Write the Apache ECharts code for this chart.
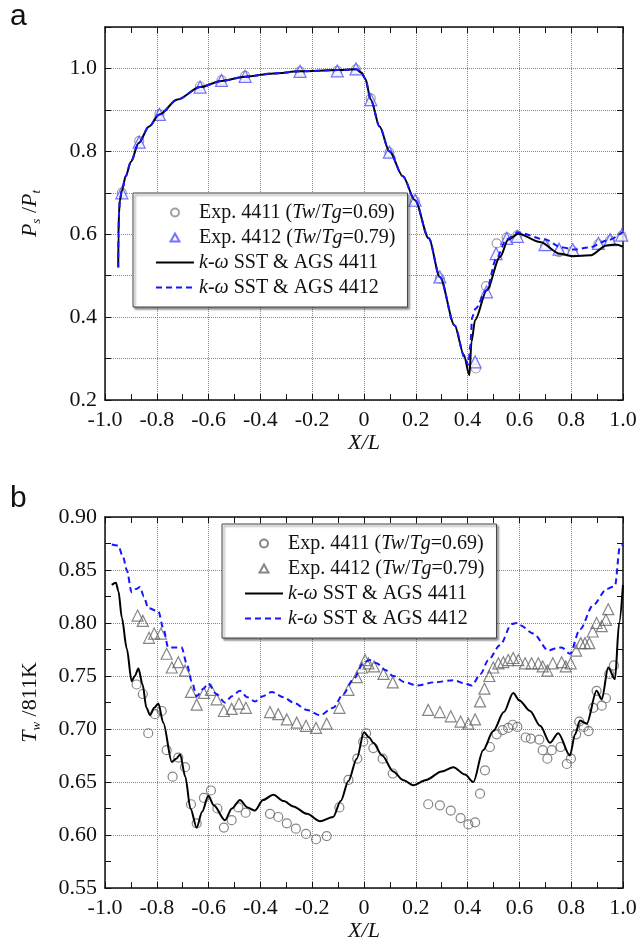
<!DOCTYPE html>
<html>
<head>
<meta charset="utf-8">
<script src="https://cdn.jsdelivr.net/npm/echarts@6/dist/echarts.min.js"></script>
<style>
  html, body { margin: 0; padding: 0; background: #fff; }
  #chart { width: 643px; height: 947px; }
</style>
</head>
<body>
<div id="chart"></div>
<script>
// panel a: Ps/Pt
var topExp4411 = [[-0.935,0.70],[-0.868,0.825],[-0.79,0.89],[-0.633,0.957],[-0.55,0.972],[-0.459,0.982],[-0.247,0.993],[-0.103,0.994],[-0.031,0.998],[0.026,0.928],[0.098,0.797],[0.197,0.68],[0.293,0.493],[0.432,0.276],[0.471,0.475],[0.512,0.578],[0.551,0.592],[0.592,0.597],[0.699,0.572],[0.753,0.557],[0.806,0.56],[0.905,0.576],[0.95,0.585],[0.995,0.596]];
var topExp4412 = [[-0.935,0.70],[-0.868,0.822],[-0.79,0.889],[-0.633,0.955],[-0.55,0.971],[-0.459,0.981],[-0.247,0.993],[-0.103,0.994],[-0.031,0.999],[0.026,0.925],[0.098,0.798],[0.197,0.682],[0.293,0.497],[0.429,0.292],[0.473,0.461],[0.51,0.553],[0.551,0.59],[0.592,0.595],[0.699,0.575],[0.753,0.564],[0.806,0.563],[0.905,0.578],[0.95,0.587],[0.995,0.598]];
var topSst4411 = [[-0.949,0.52],[-0.948,0.60],[-0.946,0.65],[-0.943,0.68],[-0.935,0.705],[-0.92,0.74],[-0.9,0.775],[-0.87,0.82],[-0.83,0.86],[-0.79,0.889],[-0.72,0.925],[-0.633,0.955],[-0.55,0.970],[-0.459,0.980],[-0.35,0.988],[-0.247,0.993],[-0.103,0.996],[-0.03,0.998],[-0.01,0.99],[0.005,0.975],[0.026,0.925],[0.06,0.86],[0.098,0.80],[0.15,0.74],[0.197,0.682],[0.25,0.59],[0.293,0.497],[0.35,0.38],[0.385,0.31],[0.407,0.26],[0.415,0.34],[0.429,0.393],[0.474,0.465],[0.525,0.545],[0.557,0.587],[0.596,0.601],[0.68,0.581],[0.757,0.553],[0.808,0.547],[0.873,0.549],[0.937,0.573],[0.97,0.575],[1.0,0.57]];
var topSst4412 = [[-0.949,0.52],[-0.948,0.60],[-0.946,0.65],[-0.943,0.68],[-0.935,0.705],[-0.92,0.74],[-0.9,0.775],[-0.87,0.82],[-0.83,0.86],[-0.79,0.889],[-0.72,0.925],[-0.633,0.955],[-0.55,0.970],[-0.459,0.980],[-0.35,0.988],[-0.247,0.993],[-0.103,0.996],[-0.03,0.998],[-0.01,0.99],[0.005,0.975],[0.026,0.925],[0.06,0.86],[0.098,0.80],[0.15,0.74],[0.197,0.682],[0.25,0.59],[0.293,0.497],[0.35,0.38],[0.39,0.30],[0.403,0.285],[0.41,0.33],[0.418,0.40],[0.43,0.42],[0.473,0.465],[0.51,0.54],[0.55,0.588],[0.596,0.604],[0.70,0.587],[0.76,0.569],[0.81,0.563],[0.87,0.568],[0.94,0.585],[1.0,0.606]];

// panel b: Tw/811K
var botExp4411 = [[-0.878,0.742],[-0.854,0.733],[-0.833,0.696],[-0.807,0.714],[-0.781,0.717],[-0.762,0.68],[-0.739,0.655],[-0.717,0.673],[-0.691,0.664],[-0.668,0.629],[-0.646,0.611],[-0.618,0.635],[-0.591,0.642],[-0.566,0.625],[-0.541,0.607],[-0.511,0.614],[-0.485,0.626],[-0.457,0.621],[-0.363,0.62],[-0.331,0.617],[-0.298,0.611],[-0.263,0.606],[-0.224,0.601],[-0.185,0.596],[-0.144,0.599],[-0.095,0.626],[-0.06,0.652],[-0.026,0.672],[-0.003,0.688],[0.008,0.696],[0.036,0.682],[0.072,0.672],[0.111,0.658],[0.248,0.629],[0.293,0.628],[0.335,0.623],[0.373,0.616],[0.403,0.61],[0.429,0.612],[0.448,0.639],[0.467,0.661],[0.486,0.683],[0.512,0.695],[0.535,0.699],[0.557,0.701],[0.574,0.704],[0.592,0.702],[0.624,0.692],[0.644,0.691],[0.677,0.69],[0.69,0.68],[0.708,0.672],[0.725,0.68],[0.759,0.683],[0.783,0.667],[0.799,0.672],[0.819,0.695],[0.831,0.707],[0.849,0.702],[0.867,0.698],[0.885,0.72],[0.898,0.736],[0.918,0.722],[0.934,0.729],[0.947,0.752],[0.965,0.76]];
var botExp4412 = [[-0.874,0.807],[-0.854,0.802],[-0.83,0.786],[-0.81,0.79],[-0.784,0.79],[-0.762,0.771],[-0.742,0.758],[-0.717,0.763],[-0.691,0.755],[-0.668,0.735],[-0.646,0.723],[-0.618,0.734],[-0.591,0.737],[-0.569,0.728],[-0.541,0.717],[-0.511,0.719],[-0.483,0.724],[-0.456,0.72],[-0.363,0.716],[-0.331,0.714],[-0.298,0.709],[-0.26,0.706],[-0.224,0.703],[-0.185,0.701],[-0.144,0.705],[-0.095,0.72],[-0.06,0.737],[-0.028,0.749],[-0.008,0.758],[0.004,0.765],[0.017,0.762],[0.039,0.759],[0.075,0.752],[0.111,0.744],[0.248,0.718],[0.293,0.716],[0.335,0.712],[0.373,0.707],[0.403,0.705],[0.429,0.709],[0.448,0.726],[0.465,0.738],[0.484,0.75],[0.499,0.758],[0.519,0.762],[0.538,0.763],[0.557,0.765],[0.576,0.767],[0.596,0.765],[0.622,0.762],[0.647,0.762],[0.673,0.762],[0.69,0.759],[0.708,0.755],[0.729,0.762],[0.763,0.763],[0.779,0.759],[0.798,0.762],[0.819,0.774],[0.837,0.781],[0.853,0.781],[0.87,0.781],[0.883,0.792],[0.898,0.8],[0.918,0.797],[0.934,0.803],[0.943,0.813]];
var botSst4411 = [[-0.974,0.836],[-0.958,0.838],[-0.948,0.83],[-0.935,0.805],[-0.916,0.776],[-0.897,0.745],[-0.885,0.750],[-0.871,0.757],[-0.855,0.742],[-0.84,0.72],[-0.826,0.713],[-0.81,0.720],[-0.794,0.724],[-0.775,0.706],[-0.742,0.669],[-0.725,0.672],[-0.71,0.676],[-0.69,0.655],[-0.67,0.625],[-0.646,0.607],[-0.625,0.622],[-0.601,0.637],[-0.58,0.628],[-0.537,0.614],[-0.51,0.625],[-0.479,0.633],[-0.45,0.626],[-0.421,0.623],[-0.39,0.633],[-0.35,0.638],[-0.31,0.632],[-0.273,0.627],[-0.22,0.62],[-0.17,0.613],[-0.119,0.617],[-0.09,0.632],[-0.06,0.651],[-0.028,0.672],[0.0,0.697],[0.02,0.692],[0.036,0.687],[0.07,0.675],[0.113,0.66],[0.15,0.652],[0.19,0.647],[0.24,0.652],[0.3,0.66],[0.345,0.664],[0.39,0.657],[0.422,0.65],[0.46,0.68],[0.499,0.698],[0.54,0.716],[0.576,0.734],[0.6,0.727],[0.641,0.717],[0.68,0.703],[0.718,0.687],[0.75,0.696],[0.795,0.675],[0.815,0.695],[0.834,0.708],[0.86,0.705],[0.898,0.736],[0.918,0.728],[0.943,0.758],[0.969,0.747],[0.985,0.80],[1.0,0.836]];
var botSst4412 = [[-0.974,0.874],[-0.949,0.873],[-0.93,0.862],[-0.916,0.85],[-0.897,0.829],[-0.88,0.832],[-0.865,0.834],[-0.85,0.825],[-0.833,0.814],[-0.794,0.811],[-0.775,0.795],[-0.756,0.777],[-0.73,0.777],[-0.704,0.777],[-0.685,0.762],[-0.665,0.745],[-0.646,0.731],[-0.62,0.738],[-0.601,0.743],[-0.57,0.733],[-0.537,0.725],[-0.51,0.731],[-0.479,0.736],[-0.45,0.73],[-0.421,0.726],[-0.39,0.731],[-0.356,0.735],[-0.31,0.73],[-0.273,0.725],[-0.22,0.718],[-0.17,0.713],[-0.119,0.72],[-0.08,0.733],[-0.041,0.747],[0.0,0.763],[0.023,0.765],[0.049,0.762],[0.08,0.756],[0.113,0.75],[0.16,0.744],[0.203,0.741],[0.27,0.744],[0.345,0.746],[0.39,0.743],[0.416,0.741],[0.45,0.752],[0.48,0.765],[0.525,0.779],[0.57,0.799],[0.59,0.8],[0.602,0.798],[0.654,0.79],[0.712,0.774],[0.74,0.776],[0.763,0.777],[0.795,0.771],[0.834,0.794],[0.885,0.817],[0.937,0.832],[0.969,0.835],[0.988,0.872],[1.0,0.874]];

var legendText = {
  a1: '{n|Exp. 4411 (}{i|Tw}{n|/}{i|Tg}{n|=0.69)}',
  a2: '{n|Exp. 4412 (}{i|Tw}{n|/}{i|Tg}{n|=0.79)}',
  a3: '{i|k}{n|-}{i|ω}{n| SST & AGS 4411}',
  a4: '{i|k}{n|-}{i|ω}{n| SST & AGS 4412}',
  b1: '{n|Exp. 4411 (}{i|Tw}{n|/}{i|Tg}{n|=0.69)}',
  b2: '{n|Exp. 4412 (}{i|Tw}{n|/}{i|Tg}{n|=0.79)}',
  b3: '{i|k}{n|-}{i|ω}{n| SST & AGS 4411}',
  b4: '{i|k}{n|-}{i|ω}{n| SST & AGS 4412}'
};

var SERIF = 'Liberation Serif';
var ink = '#111';
var triIcon = 'path://M5,0L10,9L0,9Z';

function xAx(gi, pos) {
  var main = pos === 'bottom';
  return {
    type: 'value', gridIndex: gi, position: pos,
    min: -1, max: 1, interval: 0.2,
    name: main ? 'X/L' : '', nameLocation: 'middle', nameGap: 31,
    nameTextStyle: { fontFamily: SERIF, fontStyle: 'italic', fontSize: 22, color: ink },
    axisLine: { show: true, onZero: false, lineStyle: { color: ink, width: 1.5 } },
    axisTick: { show: true, inside: true, length: 6, lineStyle: { color: ink, width: 1 } },
    minorTick: { show: true, splitNumber: 2, length: 6, lineStyle: { color: ink, width: 1 } },
    splitLine: { show: main, lineStyle: { type: 'dotted', color: '#888', width: 1 } },
    axisLabel: {
      show: main, margin: 9, fontFamily: SERIF, fontSize: 22, color: ink,
      formatter: function (v) { return Math.abs(v) < 1e-9 ? '0' : v.toFixed(1); }
    }
  };
}

function yName(gi) {
  return {
    fontFamily: SERIF, fontSize: 22, color: ink,
    rich: {
      i: { fontFamily: SERIF, fontStyle: 'italic', fontSize: 22, lineHeight: 26 },
      n: { fontFamily: SERIF, fontSize: 22, lineHeight: 26 },
      s: { fontFamily: SERIF, fontStyle: 'italic', fontSize: 13, verticalAlign: 'bottom', lineHeight: 13 }
    }
  };
}

function yAxTop(pos) {
  var main = pos === 'left';
  return {
    type: 'value', gridIndex: 0, position: pos,
    min: 0.2, max: 1.1, interval: 0.1,
    name: main ? '{i|P}{s|s}{n| /}{i|P}{s|t}' : '', nameLocation: 'middle', nameGap: 62, nameRotate: 90,
    nameTextStyle: yName(),
    axisLine: { show: true, onZero: false, lineStyle: { color: ink, width: 1.5 } },
    axisTick: { show: true, inside: true, length: 6, lineStyle: { color: ink, width: 1 } },
    splitLine: { show: main, lineStyle: { type: 'dotted', color: '#888', width: 1 } },
    axisLabel: {
      show: main, margin: 8, fontFamily: SERIF, fontSize: 22, color: ink,
      formatter: function (v) {
        var k = Math.round(v * 10);
        return (k % 2 === 0 && k <= 10) ? (k / 10).toFixed(1) : '';
      }
    }
  };
}

function yAxBot(pos) {
  var main = pos === 'left';
  return {
    type: 'value', gridIndex: 1, position: pos,
    min: 0.55, max: 0.9, interval: 0.05,
    name: main ? '{i|T}{s|w}{n| /811K}' : '', nameLocation: 'middle', nameGap: 62, nameRotate: 90,
    nameTextStyle: yName(),
    axisLine: { show: true, onZero: false, lineStyle: { color: ink, width: 1.5 } },
    axisTick: { show: true, inside: true, length: 6, lineStyle: { color: ink, width: 1 } },
    minorTick: { show: true, splitNumber: 2, length: 6, lineStyle: { color: ink, width: 1 } },
    splitLine: { show: main, lineStyle: { type: 'dotted', color: '#888', width: 1 } },
    axisLabel: {
      show: main, margin: 8, fontFamily: SERIF, fontSize: 22, color: ink,
      formatter: function (v) { return v.toFixed(2); }
    }
  };
}

function legendBox(left, top, names) {
  return {
    data: [
      { name: names[0] },
      { name: names[1], icon: triIcon },
      { name: names[2], itemStyle: { opacity: 0 } },
      { name: names[3], itemStyle: { opacity: 0 } }
    ],
    orient: 'vertical', left: left, top: top,
    itemWidth: 38, itemHeight: 8, itemGap: 0,
    symbolKeepAspect: true,
    padding: [7, 12, 7, 22],
    backgroundColor: '#fff', borderColor: '#444', borderWidth: 1,
    shadowColor: 'rgba(0,0,0,0.45)', shadowBlur: 2, shadowOffsetX: 2, shadowOffsetY: 2,
    selectedMode: false,
    formatter: function (name) { return legendText[name]; },
    textStyle: {
      fontFamily: SERIF, fontSize: 20, color: ink, lineHeight: 25,
      rich: {
        n: { fontFamily: SERIF, fontSize: 20, lineHeight: 25 },
        i: { fontFamily: SERIF, fontStyle: 'italic', fontSize: 20, lineHeight: 25 }
      }
    }
  };
}

function lineSeries(name, idx, data, color, dashed) {
  return {
    name: name, type: 'line', xAxisIndex: idx, yAxisIndex: idx, data: data,
    symbol: 'none', smooth: 0.3, smoothMonotone: 'x',
    lineStyle: { color: color, width: 2, type: dashed ? [6, 4] : 'solid' },
    itemStyle: { color: 'rgba(0,0,0,0)' }
  };
}

function scatterSeries(name, idx, data, symbol, size, border, fill) {
  return {
    name: name, type: 'scatter', xAxisIndex: idx, yAxisIndex: idx, data: data,
    symbol: symbol, symbolSize: size,
    itemStyle: { color: fill, borderColor: border, borderWidth: 1.2 }
  };
}

var chart = echarts.init(document.getElementById('chart'));
chart.setOption({
  animation: false,
  backgroundColor: '#fff',
  grid: [
    { left: 105, top: 27, width: 518, height: 373 },
    { left: 105, top: 517, width: 518, height: 371 }
  ],
  xAxis: [xAx(0, 'bottom'), xAx(1, 'bottom'), xAx(0, 'top'), xAx(1, 'top')],
  yAxis: [yAxTop('left'), yAxBot('left'), yAxTop('right'), yAxBot('right')],
  legend: [
    legendBox(133, 193, ['a1', 'a2', 'a3', 'a4']),
    legendBox(222, 524, ['b1', 'b2', 'b3', 'b4'])
  ],
  graphic: [
    { type: 'text', left: 10, top: 2, style: { text: 'a', fontFamily: 'Liberation Sans', fontSize: 30, fill: ink } },
    { type: 'text', left: 10, top: 484, style: { text: 'b', fontFamily: 'Liberation Sans', fontSize: 30, fill: ink } }
  ],
  series: [
    lineSeries('a3', 0, topSst4411, '#000', false),
    lineSeries('a4', 0, topSst4412, '#1515ff', true),
    scatterSeries('a1', 0, topExp4411, 'circle', 9, '#888', 'rgba(255,255,255,0)'),
    scatterSeries('a2', 0, topExp4412, 'triangle', 12, '#5050ff', '#f4f4ff'),
    lineSeries('b3', 1, botSst4411, '#000', false),
    lineSeries('b4', 1, botSst4412, '#1515ff', true),
    scatterSeries('b1', 1, botExp4411, 'circle', 9, '#666', 'rgba(255,255,255,0)'),
    scatterSeries('b2', 1, botExp4412, 'triangle', 11, '#666', 'rgba(255,255,255,0)')
  ]
});
</script>
</body>
</html>
